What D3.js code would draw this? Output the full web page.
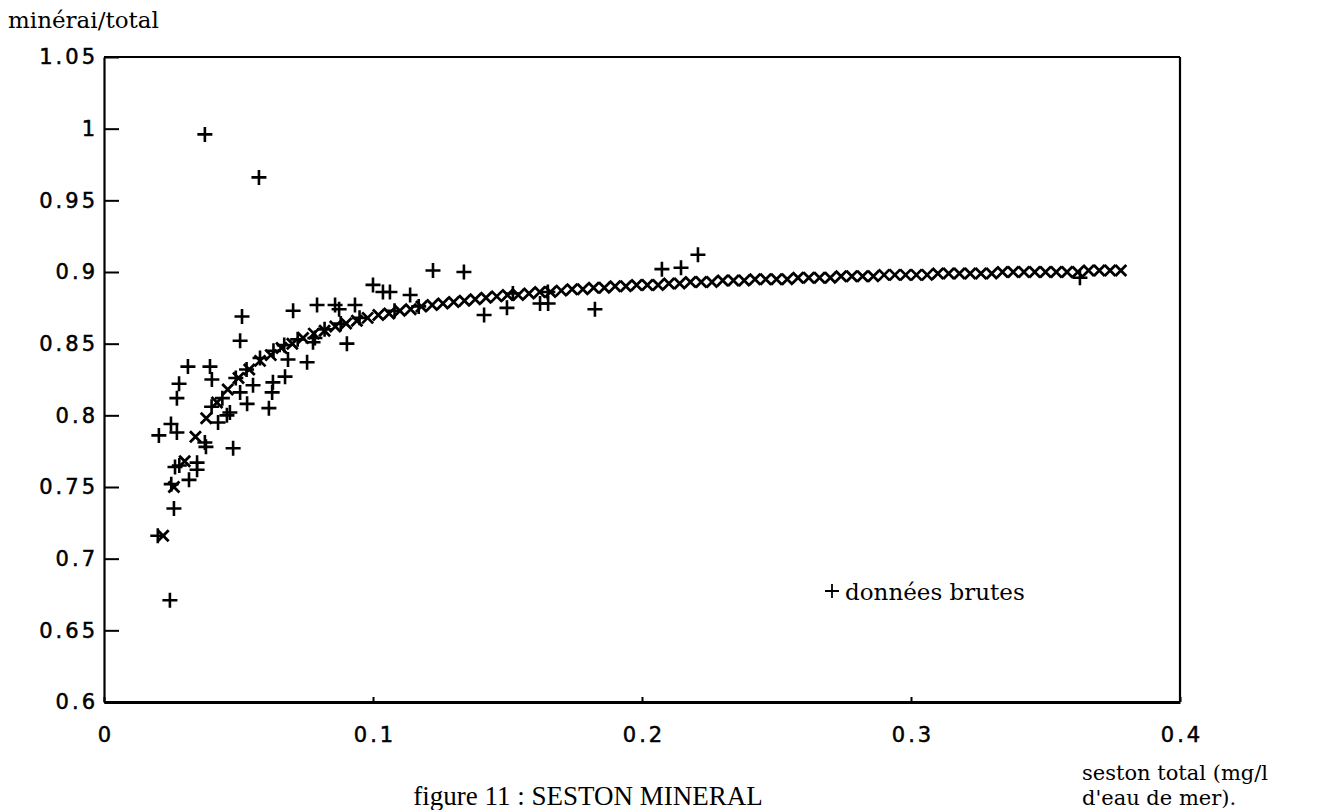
<!DOCTYPE html>
<html>
<head>
<meta charset="utf-8">
<script src="https://cdn.jsdelivr.net/npm/d3@7"></script>
<style>
  body { margin: 0; background: #fff; }
  svg { display: block; }
</style>
</head>
<body>
<svg id="chart" width="1320" height="810"></svg>
<script>
// Tick values and labels
const xTicks = [0, 0.1, 0.2, 0.3, 0.4];
const xTickLabels = ["0", "0.1", "0.2", "0.3", "0.4"];
const yTicks = [0.6, 0.65, 0.7, 0.75, 0.8, 0.85, 0.9, 0.95, 1, 1.05];
const yTickLabels = ["0.6", "0.65", "0.7", "0.75", "0.8", "0.85", "0.9", "0.95", "1", "1.05"];

// raw data (+)
const rawX = [0.0375, 0.0576, 0.0513, 0.0703, 0.0792, 0.0859, 0.0933, 0.0874, 0.0506, 0.0312,
  0.0394, 0.0401, 0.0279, 0.0271, 0.0506, 0.0532, 0.0554, 0.0628, 0.0625, 0.0613,
  0.0673, 0.0684, 0.0755, 0.0903, 0.0777, 0.0457, 0.0424, 0.0480, 0.0375, 0.0379,
  0.0249, 0.0204, 0.0271, 0.0346, 0.0346, 0.0316, 0.0260, 0.0264, 0.0245, 0.1000,
  0.1037, 0.1063, 0.1223, 0.1338, 0.1138, 0.1413, 0.1498, 0.1621, 0.1651, 0.1825,
  0.2074, 0.2145, 0.2208, 0.3628, 0.0784, 0.0468, 0.040, 0.044, 0.049, 0.053,
  0.058, 0.063, 0.067, 0.072, 0.082, 0.088, 0.095, 0.108, 0.117, 0.152,
  0.165, 0.020, 0.025, 0.028];
const rawY = [0.996, 0.966, 0.869, 0.873, 0.877, 0.877, 0.877, 0.874, 0.852, 0.834,
  0.834, 0.825, 0.822, 0.812, 0.816, 0.808, 0.821, 0.823, 0.816, 0.805,
  0.827, 0.839, 0.837, 0.850, 0.851, 0.800, 0.795, 0.777, 0.781, 0.778,
  0.794, 0.786, 0.788, 0.767, 0.762, 0.755, 0.735, 0.764, 0.671, 0.891,
  0.886, 0.886, 0.901, 0.900, 0.884, 0.870, 0.875, 0.878, 0.878, 0.874,
  0.902, 0.903, 0.912, 0.896, 0.854, 0.802, 0.806, 0.812, 0.826, 0.832,
  0.840, 0.845, 0.849, 0.853, 0.860, 0.864, 0.868, 0.873, 0.876, 0.885,
  0.886, 0.716, 0.752, 0.765];

// fitted curve (x markers)
const fitX = [0.022, 0.026, 0.030, 0.034, 0.038, 0.042, 0.046, 0.050, 0.054, 0.058,
  0.062, 0.066, 0.070, 0.074, 0.078, 0.082, 0.086, 0.090, 0.094, 0.098,
  0.102, 0.106, 0.110, 0.114, 0.118, 0.122, 0.126, 0.130, 0.134, 0.138,
  0.142, 0.146, 0.150, 0.154, 0.158, 0.162, 0.166, 0.170, 0.174, 0.178,
  0.182, 0.186, 0.190, 0.194, 0.198, 0.202, 0.206, 0.210, 0.214, 0.218,
  0.222, 0.226, 0.230, 0.234, 0.238, 0.242, 0.246, 0.250, 0.254, 0.258,
  0.262, 0.266, 0.270, 0.274, 0.278, 0.282, 0.286, 0.290, 0.294, 0.298,
  0.302, 0.306, 0.310, 0.314, 0.318, 0.322, 0.326, 0.330, 0.334, 0.338,
  0.342, 0.346, 0.350, 0.354, 0.358, 0.362, 0.366, 0.370, 0.374, 0.378];
const fitY = [0.716, 0.750, 0.768, 0.785, 0.798, 0.809, 0.818, 0.826, 0.832, 0.838,
  0.842, 0.847, 0.850, 0.854, 0.857, 0.859, 0.862, 0.864, 0.866, 0.868,
  0.870, 0.871, 0.873, 0.874, 0.876, 0.877, 0.878, 0.879, 0.880, 0.881,
  0.882, 0.883, 0.884, 0.884, 0.885, 0.886, 0.886, 0.887, 0.888, 0.888,
  0.889, 0.889, 0.890, 0.890, 0.891, 0.891, 0.891, 0.892, 0.892, 0.893,
  0.893, 0.893, 0.894, 0.894, 0.894, 0.895, 0.895, 0.895, 0.895, 0.896,
  0.896, 0.896, 0.896, 0.897, 0.897, 0.897, 0.897, 0.898, 0.898, 0.898,
  0.898, 0.898, 0.899, 0.899, 0.899, 0.899, 0.899, 0.899, 0.900, 0.900,
  0.900, 0.900, 0.900, 0.900, 0.900, 0.900, 0.901, 0.901, 0.901, 0.901];

const svg = d3.select("#chart");
svg.append("rect").attr("width", 1320).attr("height", 810).attr("fill", "#fff");

const x = d3.scaleLinear().domain([0, 0.4]).range([104, 1180]);
const y = d3.scaleLinear().domain([0.6, 1.05]).range([702, 57]);

const tickFont = "'DejaVu Sans', sans-serif";
const serif = "'DejaVu Serif', serif";

// y axis, ticks pointing inward
const yAxis = svg.append("g")
  .attr("transform", `translate(${x(0)},0)`)
  .call(d3.axisLeft(y).tickValues(yTicks)
    .tickFormat((d, i) => yTickLabels[i])
    .tickSize(-15).tickSizeOuter(0).tickPadding(6));

// x axis
const xAxis = svg.append("g")
  .attr("transform", `translate(0,${y(0.6)})`)
  .call(d3.axisBottom(x).tickValues(xTicks)
    .tickFormat((d, i) => xTickLabels[i])
    .tickSize(-5).tickSizeOuter(0).tickPadding(25));

[yAxis, xAxis].forEach(g => {
  g.select(".domain").attr("stroke", "#000").attr("stroke-width", 2.2);
  g.selectAll(".tick line").attr("stroke", "#000").attr("stroke-width", 2);
  g.selectAll(".tick text")
    .attr("fill", "#000")
    .attr("stroke", "#000")
    .attr("stroke-width", 0.5)
    .style("font-family", tickFont)
    .style("font-size", "21px")
    .style("letter-spacing", "3px");
});
xAxis.select(".domain").attr("stroke-width", 2.8);
xAxis.selectAll(".tick text").attr("dx", "1.5px");

// frame top + right
svg.append("line")
  .attr("x1", x(0)).attr("x2", x(0.4)).attr("y1", y(1.05)).attr("y2", y(1.05))
  .attr("stroke", "#000").attr("stroke-width", 2.2);
svg.append("line")
  .attr("x1", x(0.4)).attr("x2", x(0.4)).attr("y1", y(1.05)).attr("y2", y(0.6))
  .attr("stroke", "#000").attr("stroke-width", 2.2);

// fitted curve as x markers
const fitData = fitX.map((v, i) => ({ x: v, y: fitY[i] }));
const cr = 5.5;
svg.append("g").selectAll("path")
  .data(fitData)
  .enter()
  .append("path")
  .attr("d", d => {
    const cx = x(d.x), cy = y(d.y);
    return `M${cx - cr},${cy - cr}L${cx + cr},${cy + cr}M${cx - cr},${cy + cr}L${cx + cr},${cy - cr}`;
  })
  .attr("stroke", "#000")
  .attr("stroke-width", 2.8)
  .attr("fill", "none");

// raw points as + markers
const rawData = rawX.map((v, i) => ({ x: v, y: rawY[i] }));
const pr = 7.5;
svg.append("g").selectAll("path")
  .data(rawData)
  .enter()
  .append("path")
  .attr("d", d => {
    const cx = x(d.x), cy = y(d.y);
    return `M${cx - pr},${cy}L${cx + pr},${cy}M${cx},${cy - pr}L${cx},${cy + pr}`;
  })
  .attr("stroke", "#000")
  .attr("stroke-width", 2.6)
  .attr("fill", "none");

// legend
svg.append("path")
  .attr("d", "M825,591L839,591M832,584L832,598")
  .attr("stroke", "#000").attr("stroke-width", 1.8);
svg.append("text")
  .attr("x", 845).attr("y", 600)
  .style("font-family", serif).style("font-size", "23px")
  .text("données brutes");

// axis titles
svg.append("text")
  .attr("x", 8).attr("y", 28)
  .style("font-family", serif).style("font-size", "23px")
  .text("minérai/total");
svg.append("text")
  .attr("x", 1082).attr("y", 780)
  .style("font-family", serif).style("font-size", "21px")
  .text("seston total (mg/l");
svg.append("text")
  .attr("x", 1082).attr("y", 805)
  .style("font-family", serif).style("font-size", "21px")
  .text("d'eau de mer).");

// caption (sits right on the page bottom)
svg.append("text")
  .attr("x", 588).attr("y", 805)
  .attr("text-anchor", "middle")
  .style("font-family", "'Liberation Serif', serif").style("font-size", "27px")
  .text("figure 11 : SESTON MINERAL");
</script>
</body>
</html>
